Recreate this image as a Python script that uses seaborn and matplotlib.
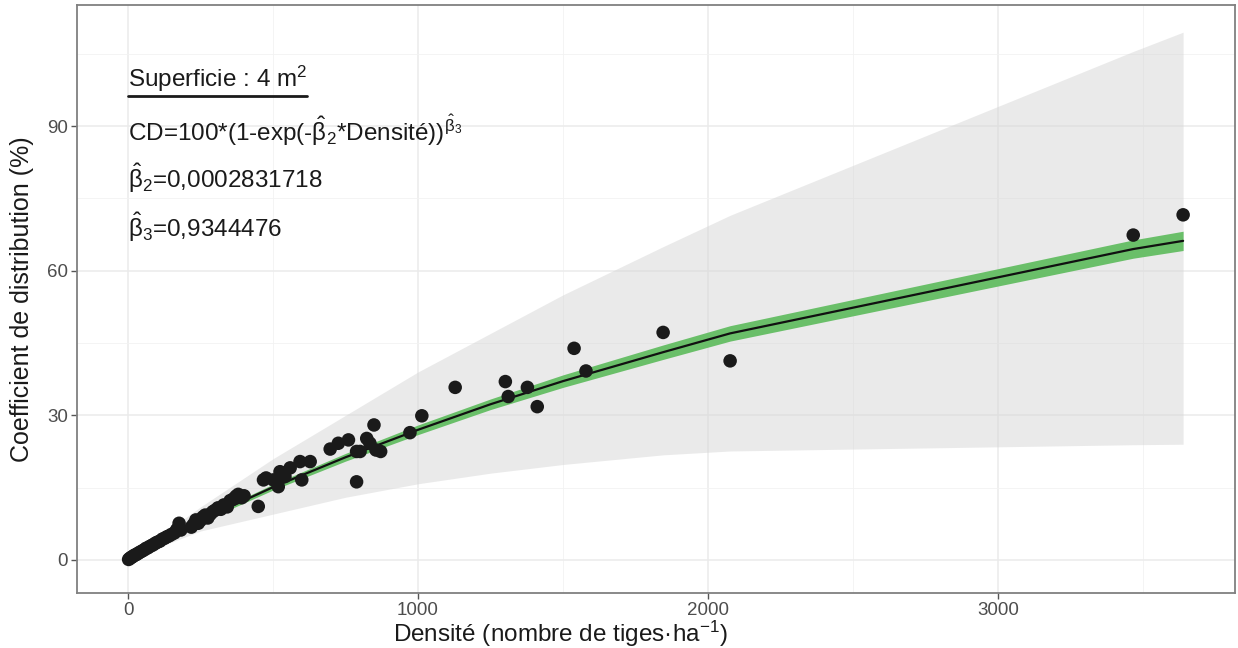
import pandas as pd
import seaborn as sns
import matplotlib.pyplot as plt
from matplotlib.lines import Line2D

densite = [2, 6, 10, 14, 18, 23, 28, 33, 38, 44, 50, 56, 62, 68, 75, 82, 88, 95,
           102, 110, 118, 126, 134, 142, 150, 160, 168, 176, 182, 218, 226, 234,
           242, 250, 258, 266, 275, 284, 292, 300, 310, 320, 330, 342, 352, 362,
           372, 380, 392, 400,
           449, 467, 476, 501, 518, 524, 541, 559, 593, 599, 628, 697, 725, 760,
           788, 788, 800, 823, 834, 848, 871, 855,
           972, 1013, 1128, 1301, 1311, 1377, 1411, 1538, 1579, 1845, 2076,
           3466, 3638]
coef_dist = [0.1, 0.3, 0.5, 0.6, 0.8, 1.0, 1.1, 1.3, 1.5, 1.7, 1.9, 2.1, 2.4, 2.5,
             2.8, 3.0, 3.2, 3.5, 3.7, 3.9, 4.3, 4.5, 4.8, 5.0, 5.3, 5.6, 6.3, 7.6,
             6.2, 6.8, 7.4, 8.3, 7.6, 8.2, 8.9, 9.3, 8.7, 9.5, 10.0, 10.3, 10.8,
             10.5, 11.4, 11.0, 12.3, 12.6, 13.2, 13.6, 12.9, 13.3,
             11.1, 16.6, 17.0, 16.6, 15.2, 18.3, 17.3, 19.1, 20.4, 16.6, 20.4,
             23.0, 24.2, 24.9, 22.5, 16.2, 22.5, 25.2, 24.2, 28.0, 22.5, 22.8,
             26.4, 29.9, 35.8, 37.0, 33.9, 35.8, 31.8, 43.9, 39.2, 47.2, 41.3,
             67.4, 71.6]

# fitted curve with confidence and prediction bands
fit_x = [0, 100, 250, 500, 750, 1000, 1250, 1500, 1845, 2076, 3466, 3638]
fit_cd = [0, 3.5, 8.2, 15.1, 21.3, 27.0, 32.3, 37.1, 43.1, 47.0, 64.5, 66.2]
ci_low = [0, 3.3, 7.8, 14.5, 20.5, 26.0, 31.2, 35.8, 41.6, 45.4, 62.6, 64.2]
ci_high = [0, 3.7, 8.6, 15.7, 22.1, 28.0, 33.4, 38.4, 44.6, 48.6, 66.4, 68.2]
pi_low = [0, 2.5, 6.0, 9.5, 13.0, 15.8, 18.0, 19.8, 21.8, 22.6, 23.9, 24.0]
pi_high = [0, 4.5, 11.0, 21.0, 30.0, 39.0, 47.0, 55.0, 65.0, 71.5, 105.5, 109.5]

x_ticks = [0, 1000, 2000, 3000]
y_ticks = [0, 30, 60, 90]

pts = pd.DataFrame({'Densite': densite, 'CD': coef_dist})
fit = pd.DataFrame({'Densite': fit_x, 'CD': fit_cd})

sns.set_theme(style="whitegrid")
plt.rcParams['font.family'] = ['Liberation Sans', 'DejaVu Sans']
plt.rcParams['mathtext.fontset'] = 'custom'
plt.rcParams['mathtext.rm'] = 'Liberation Sans'
plt.rcParams['mathtext.it'] = 'Liberation Sans'
plt.rcParams['mathtext.bf'] = 'Liberation Sans:bold'

fig = plt.figure(figsize=(12.38, 6.48), dpi=100)
ax = fig.add_axes([0.0622, 0.085, 0.9354, 0.907])
ax.set_facecolor('white')

ax.fill_between(fit_x, pi_low, pi_high, color='#d6d6d6', alpha=0.5, lw=0, zorder=1)
ax.fill_between(fit_x, ci_low, ci_high, color='#6abf69', lw=0, zorder=2)
sns.lineplot(data=fit, x='Densite', y='CD', color='#111111', linewidth=1.6,
             ax=ax, zorder=3)
sns.scatterplot(data=pts, x='Densite', y='CD', color='#1a1a1a', s=95,
                edgecolor='none', ax=ax, zorder=4)

ax.set_xlim(-176, 3817)
ax.set_ylim(-6.85, 115.1)
ax.set_xticks(x_ticks)
ax.set_yticks(y_ticks)
ax.set_xticks([500, 1500, 2500, 3500], minor=True)
ax.set_yticks([15, 45, 75, 105], minor=True)
ax.grid(which='major', color='#ebebeb', linewidth=1.1)
ax.grid(which='minor', color='#f2f2f2', linewidth=0.6)
ax.set_axisbelow(True)
for sp in ax.spines.values():
    sp.set_color('#808080')
    sp.set_linewidth(1.3)
ax.tick_params(which='major', length=4, width=1, color='#555555', pad=2.5,
               labelcolor='#4d4d4d', labelsize=13.5, bottom=True, left=True)
ax.tick_params(which='minor', length=0)

ax.set_xlabel(r'Densité (nombre de tiges·ha$^{-1}$)', fontsize=17.5, color='#1a1a1a')
ax.set_ylabel('Coefficient de distribution (%)', fontsize=18, color='#1a1a1a')
ax.xaxis.set_label_coords(0.417, -0.044)
ax.yaxis.set_label_coords(-0.037, 0.5)

fs = 17.5
t1 = ax.text(0, 98.1, r'Superficie : 4 m$^2$', fontsize=fs, color='#1a1a1a')
ax.text(0, 86.9, r'CD=100*(1-exp(-$\hat{\beta}_2$*Densité))$^{\hat{\beta}_3}$',
        fontsize=fs, color='#1a1a1a')
ax.text(0, 77.2, r'$\hat{\beta}_2$=0,0002831718', fontsize=fs, color='#1a1a1a')
ax.text(0, 67.0, r'$\hat{\beta}_3$=0,9344476', fontsize=fs, color='#1a1a1a')

# underline the title of the annotation block
fig.canvas.draw()
bb = t1.get_window_extent().transformed(fig.transFigure.inverted())
y_line = bb.y0 - 0.003
fig.add_artist(Line2D([bb.x0, bb.x1], [y_line, y_line], color='#1a1a1a', lw=2))

fig.savefig('out.png', dpi=100)
